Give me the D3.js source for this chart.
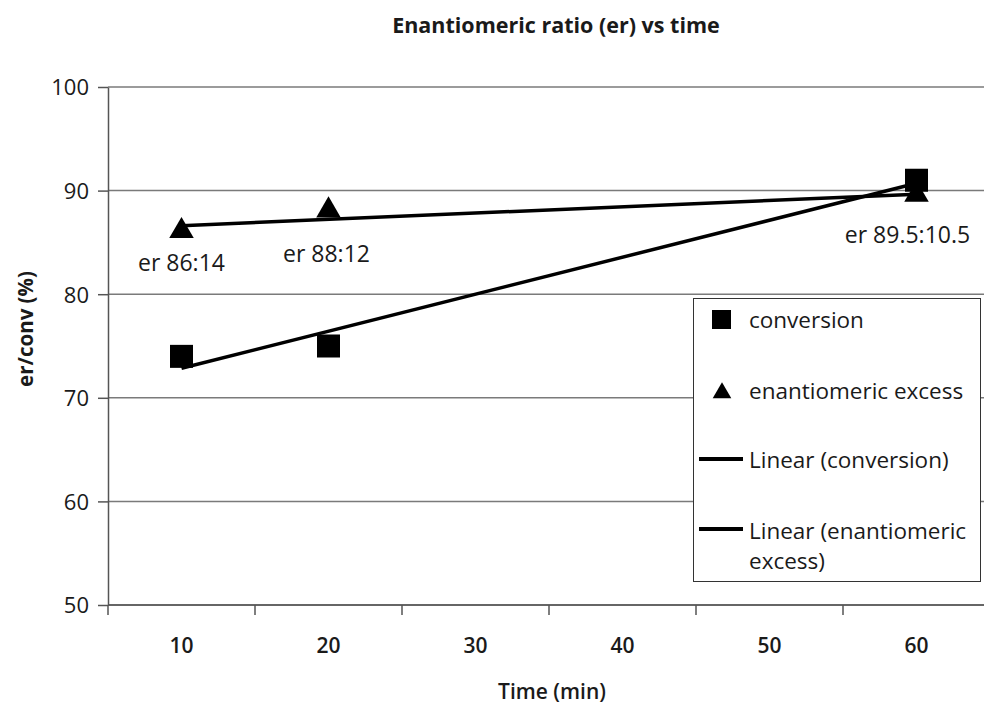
<!DOCTYPE html>
<html>
<head>
<meta charset="utf-8">
<script src="https://cdn.jsdelivr.net/npm/d3@7"></script>
<style>
  html, body { margin: 0; padding: 0; background: #fff; }
  svg { display: block; font-family: "Open Sans", "Noto Sans", sans-serif; }
</style>
</head>
<body>
<svg id="chart" width="984" height="707"></svg>
<script>
// Time categories on the x axis
const timeCategories = ["10", "20", "30", "40", "50", "60"];
// Measured time points
const sampleTimes = ["10", "20", "60"];
// Conversion (%) at each measured time
const conversionValues = [74, 75, 91];
// Enantiomeric ratio major component (%) at each measured time
const erValues = [86, 88, 89.5];
// Point labels for the er series
const erLabels = ["er 86:14", "er 88:12", "er 89.5:10.5"];
// Y axis ticks
const yTicks = [50, 60, 70, 80, 90, 100];

const svg = d3.select("#chart");
const W = 984, H = 707;
const m = { left: 108, right: -6, top: 87, bottom: 102 };
const textFill = "#1a1a1a";

const x = d3.scaleBand().domain(timeCategories).range([m.left, W - m.right]);
const y = d3.scaleLinear().domain([50, 100]).range([H - m.bottom, m.top]);
const cx = c => x(c) + x.bandwidth() / 2;

// gridlines
svg.append("g").selectAll("line").data(yTicks).join("line")
  .attr("x1", m.left).attr("x2", W)
  .attr("y1", d => y(d)).attr("y2", d => y(d))
  .attr("stroke", "#7a7a7a").attr("stroke-width", 1.5);

// y axis
const yAxis = svg.append("g").attr("transform", `translate(${m.left},0)`)
  .call(d3.axisLeft(y).tickValues(yTicks).tickSize(10).tickPadding(9).tickSizeOuter(0));
yAxis.select(".domain").attr("stroke", "#555").attr("stroke-width", 1.5);
yAxis.selectAll(".tick line").attr("stroke", "#555").attr("stroke-width", 1.5);
yAxis.selectAll("text").attr("font-size", 22).attr("fill", textFill)
  .attr("font-family", "'Open Sans', sans-serif").attr("dy", "0.36em");

// x axis: ticks on band boundaries
const xAxisG = svg.append("g");
xAxisG.append("line").attr("x1", m.left).attr("x2", W)
  .attr("y1", y(50)).attr("y2", y(50)).attr("stroke", "#555").attr("stroke-width", 1.5);
xAxisG.selectAll(".bt").data(timeCategories).join("line").attr("class", "bt")
  .attr("x1", d => x(d)).attr("x2", d => x(d))
  .attr("y1", y(50)).attr("y2", y(50) + 10)
  .attr("stroke", "#555").attr("stroke-width", 1.5);
xAxisG.selectAll("text").data(timeCategories).join("text")
  .attr("x", d => cx(d)).attr("y", 653)
  .attr("text-anchor", "middle").attr("font-size", 21).attr("font-weight", 600)
  .attr("fill", textFill).text(d => d);

// axis titles
svg.append("text").attr("x", 552).attr("y", 699).attr("text-anchor", "middle")
  .attr("font-size", 21).attr("font-weight", 600)
  .attr("fill", textFill).text("Time (min)");
svg.append("text").attr("transform", "translate(33,329) rotate(-90)")
  .attr("text-anchor", "middle").attr("font-size", 20.5).attr("font-weight", 700)
  .attr("fill", textFill).text("er/conv (%)");
svg.append("text").attr("x", 556).attr("y", 33).attr("text-anchor", "middle")
  .attr("font-size", 21.5).attr("font-weight", 700).attr("fill", textFill)
  .text("Enantiomeric ratio (er) vs time");

// linear trend over category positions (1..n), as a spreadsheet trendline does
function linearFit(vals) {
  const xs = sampleTimes.map(t => timeCategories.indexOf(t) + 1);
  const mx = d3.mean(xs), my = d3.mean(vals);
  const sxy = d3.sum(xs, (v, i) => (v - mx) * (vals[i] - my));
  const sxx = d3.sum(xs, v => (v - mx) ** 2);
  const b = sxy / sxx, a = my - b * mx;
  const first = sampleTimes[0], last = sampleTimes[sampleTimes.length - 1];
  const xf = timeCategories.indexOf(first) + 1, xl = timeCategories.indexOf(last) + 1;
  return [[first, a + b * xf], [last, a + b * xl]];
}
const line = d3.line().x(d => cx(d[0])).y(d => y(d[1]));
[conversionValues, erValues].forEach(vals => {
  svg.append("path").attr("d", line(linearFit(vals)))
    .attr("fill", "none").attr("stroke", "#000").attr("stroke-width", 3.5);
});

// markers
const sq = 23;
svg.append("g").selectAll("rect").data(sampleTimes).join("rect")
  .attr("x", (d) => cx(d) - sq / 2).attr("y", (d, i) => y(conversionValues[i]) - sq / 2)
  .attr("width", sq).attr("height", sq).attr("fill", "#000");
const tri = d3.symbol().type(d3.symbolTriangle).size(260);
svg.append("g").selectAll("path").data(sampleTimes).join("path")
  .attr("transform", (d, i) => `translate(${cx(d)},${y(erValues[i]) - 1})`)
  .attr("d", tri).attr("fill", "#000");

// er labels (offsets placed by hand below each point)
const labelOffsets = [[0, 39], [-2, 51], [-9, 47]];
svg.append("g").selectAll("text").data(sampleTimes).join("text")
  .attr("x", (d, i) => cx(d) + labelOffsets[i][0])
  .attr("y", (d, i) => y(erValues[i]) + labelOffsets[i][1])
  .attr("text-anchor", "middle").attr("font-size", 23).attr("fill", textFill)
  .text((d, i) => erLabels[i]);

// legend
const lg = svg.append("g");
lg.append("rect").attr("x", 693.5).attr("y", 298.5).attr("width", 287).attr("height", 283)
  .attr("fill", "#fff").attr("stroke", "#333").attr("stroke-width", 1);
lg.append("rect").attr("x", 712).attr("y", 310).attr("width", 19).attr("height", 19).attr("fill", "#000");
lg.append("path").attr("transform", "translate(722,393)")
  .attr("d", d3.symbol().type(d3.symbolTriangle).size(150)).attr("fill", "#000");
lg.append("line").attr("x1", 699).attr("x2", 743).attr("y1", 459).attr("y2", 459)
  .attr("stroke", "#000").attr("stroke-width", 4);
lg.append("line").attr("x1", 699).attr("x2", 743).attr("y1", 529).attr("y2", 529)
  .attr("stroke", "#000").attr("stroke-width", 4);
const legText = [["conversion", 328], ["enantiomeric excess", 399], ["Linear (conversion)", 468],
  ["Linear (enantiomeric", 539], ["excess)", 569]];
lg.selectAll("text").data(legText).join("text")
  .attr("x", 749).attr("y", d => d[1]).attr("font-size", 22.5).attr("fill", textFill)
  .text(d => d[0]);
</script>
</body>
</html>
